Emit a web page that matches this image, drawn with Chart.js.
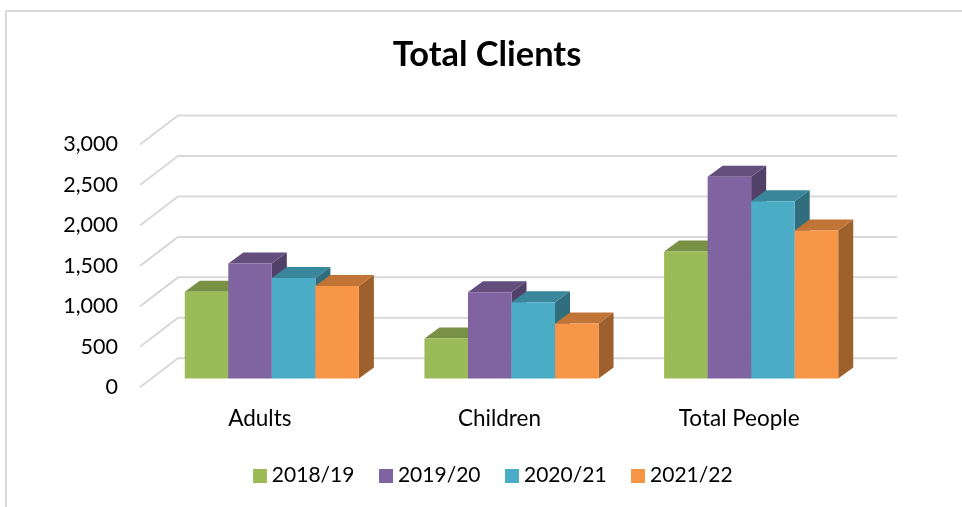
<!DOCTYPE html>
<html><head><meta charset="utf-8">
<script src="https://cdn.jsdelivr.net/npm/chart.js@4"></script>
<style>
html,body{margin:0;padding:0;background:#fff;overflow:hidden;width:962px;height:507px}
#frame{position:absolute;left:5px;top:10px;width:1000px;height:600px;border:2px solid #d9d9d9;box-sizing:border-box}
canvas{position:absolute;left:0;top:0}
</style></head><body>
<div id="frame"></div>
<canvas id="c" width="962" height="507"></canvas>
<script>
const categories = ["Adults", "Children", "Total People"];
const seriesNames = ["2018/19", "2019/20", "2020/21", "2021/22"];
const values2018 = [1072, 496, 1570];
const values2019 = [1422, 1066, 2495];
const values2020 = [1244, 942, 2190];
const values2021 = [1145, 682, 1830];
const seriesColors = ["#9BBB59", "#8064A2", "#4BACC6", "#F79646"];
const FONT = "Lato";
const DX = 15, DY = -11, PLANE_X = 12, PLANE_Y = -8.7, WALL_X = 38, WALL_Y = -29;

function shade(hex, f) {
  const n = parseInt(hex.slice(1), 16);
  return `rgb(${((n >> 16) & 255) * f | 0},${((n >> 8) & 255) * f | 0},${(n & 255) * f | 0})`;
}
function swatch(color) {
  const s = document.createElement("canvas");
  s.width = 14; s.height = 14;
  const g = s.getContext("2d");
  g.fillStyle = color; g.fillRect(0, 0, 14, 14);
  return s;
}
function poly(ctx, color, pts) {
  ctx.fillStyle = color;
  ctx.beginPath();
  pts.forEach((p, i) => i ? ctx.lineTo(p[0], p[1]) : ctx.moveTo(p[0], p[1]));
  ctx.closePath();
  ctx.fill();
}

const depthPlugin = {
  id: "depth",
  afterLayout(chart) {
    chart.titleBlock.left = 0; chart.titleBlock.right = 974;
    chart.titleBlock.top = 34;
    chart.legend.left = 0; chart.legend.right = 991;
    chart.legend.top = 435; chart.legend.bottom = 507;
  },
  beforeDatasetsDraw(chart) {
    const { ctx } = chart, y = chart.scales.y, x = chart.scales.x;
    ctx.save();
    ctx.strokeStyle = "#d9d9d9";
    ctx.lineWidth = 2;
    y.ticks.forEach(t => {
      const py = y.getPixelForValue(t.value);
      ctx.beginPath();
      ctx.moveTo(x.left, py);
      ctx.lineTo(x.left + WALL_X, py + WALL_Y);
      ctx.lineTo(x.right + WALL_X, py + WALL_Y);
      ctx.stroke();
    });
    ctx.restore();
  },
  beforeDatasetDraw() { return false; },
  afterDatasetsDraw(chart) {
    const { ctx } = chart;
    seriesNames.forEach((name, i) => {
      const meta = chart.getDatasetMeta(i), color = seriesColors[i];
      ctx.save();
      ctx.translate(PLANE_X, PLANE_Y);
      meta.data.forEach(b => {
        const l = b.x - b.width / 2, r = b.x + b.width / 2;
        poly(ctx, shade(color, 0.64), [[r, b.y], [r + DX, b.y + DY], [r + DX, b.base + DY], [r, b.base]]);
        poly(ctx, shade(color, 0.78), [[l, b.y], [l + DX, b.y + DY], [r + DX, b.y + DY], [r, b.y]]);
      });
      meta.controller.draw();
      ctx.restore();
    });
  }
};

const seriesValues = [values2018, values2019, values2020, values2021];
new Chart(document.getElementById("c"), {
  type: "bar",
  data: {
    labels: categories,
    datasets: seriesNames.map((name, i) => ({
      label: name,
      data: seriesValues[i],
      backgroundColor: seriesColors[i],
      borderWidth: 0,
      clip: false
    }))
  },
  plugins: [depthPlugin],
  options: {
    responsive: false,
    animation: false,
    devicePixelRatio: 1,
    events: [],
    layout: { padding: { left: 0, right: 103, top: 103.2, bottom: 0 } },
    datasets: { bar: { barPercentage: 1, categoryPercentage: 0.7265 } },
    scales: {
      x: {
        grid: { display: false }, border: { display: false },
        ticks: { color: "#000", font: { family: FONT, size: 22.5 }, padding: 10, maxRotation: 0 },
        afterFit(s) { s.height = 58.7; }
      },
      y: {
        min: 0, max: 3000,
        grid: { display: false }, border: { display: false },
        ticks: { color: "#000", stepSize: 500, font: { family: FONT, size: 21.5 }, padding: 14 },
        afterFit(s) { s.width = 140; }
      }
    },
    plugins: {
      tooltip: { enabled: false },
      title: {
        display: true, text: "Total Clients", color: "#000",
        font: { family: FONT, size: 34.4, weight: "bold" }, padding: 0
      },
      legend: {
        position: "bottom",
        labels: {
          color: "#000",
          font: { family: FONT, size: 21 },
          usePointStyle: true,
          pointStyleWidth: 3,
          padding: 30,
          generateLabels: () => seriesNames.map((name, i) => ({
            text: name, pointStyle: swatch(seriesColors[i]), datasetIndex: i,
            fontColor: "#000", lineWidth: 0
          }))
        }
      }
    }
  }
});
</script>
</body></html>
